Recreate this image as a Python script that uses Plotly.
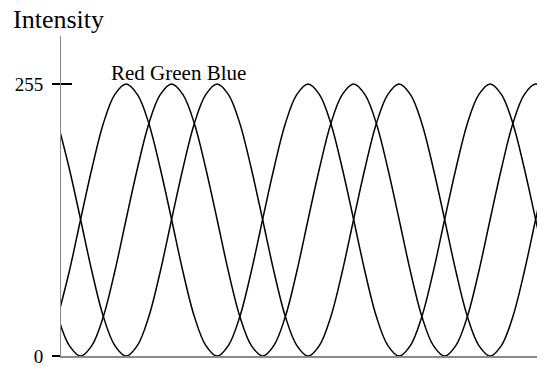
import plotly.graph_objects as go

# sample index along the time axis (each step = 1/16 of a period)
sample = list(range(-1, 43))

red = [37, 79, 128, 176, 218, 245,
       255, 245, 218, 176, 128, 79, 37, 10, 0, 10, 37, 79, 128, 176, 218, 245,
       255, 245, 218, 176, 128, 79, 37, 10, 0, 10, 37, 79, 128, 176, 218, 245,
       255, 245, 218, 176, 128, 79]
green = [37, 10, 0, 10, 37, 79, 128, 176, 218, 245,
         255, 245, 218, 176, 128, 79, 37, 10, 0, 10, 37, 79, 128, 176, 218, 245,
         255, 245, 218, 176, 128, 79, 37, 10, 0, 10, 37, 79, 128, 176, 218, 245,
         255, 245]
blue = [218, 176, 128, 79, 37, 10, 0, 10, 37, 79, 128, 176, 218, 245,
        255, 245, 218, 176, 128, 79, 37, 10, 0, 10, 37, 79, 128, 176, 218, 245,
        255, 245, 218, 176, 128, 79, 37, 10, 0, 10, 37, 79, 128, 176]

tick_vals = [0, 255]
tick_text = ["0", "255"]
series_label = "Red Green Blue"
axis_title = "Intensity"

SERIF = "Liberation Serif, Times New Roman, serif"

fig = go.Figure()
for ys in (red, green, blue):
    fig.add_trace(go.Scatter(
        x=sample, y=ys, mode="lines",
        line=dict(color="black", width=1.5, shape="spline", smoothing=1),
        hoverinfo="skip", showlegend=False,
    ))
# invisible helper trace so the overlay axis (inner tick halves) is drawn
fig.add_trace(go.Scatter(x=sample, y=red, yaxis="y2", mode="lines",
                         line=dict(width=0), opacity=0, hoverinfo="skip",
                         showlegend=False))

fig.update_layout(
    width=544, height=366,
    margin=dict(l=61, r=7, t=36, b=10),
    paper_bgcolor="white", plot_bgcolor="white",
    showlegend=False,
    xaxis=dict(range=[-0.722, 41.12], showline=True, linecolor="#8a8a8a",
               linewidth=2, showticklabels=False, ticks="", showgrid=False,
               zeroline=False),
    yaxis=dict(range=[0, 300], showline=True, linecolor="#8a8a8a", linewidth=1,
               tickvals=tick_vals, ticktext=tick_text, ticks="outside",
               ticklen=8, tickwidth=2, tickcolor="black",
               ticklabelstandoff=5, ticklabeloverflow="allow",
               tickfont=dict(family=SERIF, size=19, color="black"),
               showgrid=False, zeroline=False, automargin=False),
    yaxis2=dict(range=[0, 300], overlaying="y", side="left",
                tickvals=tick_vals, ticks="inside", ticklen=11, tickwidth=2,
                tickcolor="black", showticklabels=False, showline=False,
                showgrid=False, zeroline=False),
    annotations=[
        dict(text=series_label, xref="paper", yref="paper", x=0.101, y=0.884,
             xanchor="left", yanchor="middle", showarrow=False,
             font=dict(family=SERIF, size=21, color="black")),
        dict(text=axis_title, xref="paper", yref="paper", x=-0.104, y=1.053,
             xanchor="left", yanchor="middle", showarrow=False,
             font=dict(family=SERIF, size=26, color="black")),
    ],
)

fig.write_html("out.html", config={"displayModeBar": False},
               post_script="document.body.style.margin='0';document.body.style.padding='0';")
